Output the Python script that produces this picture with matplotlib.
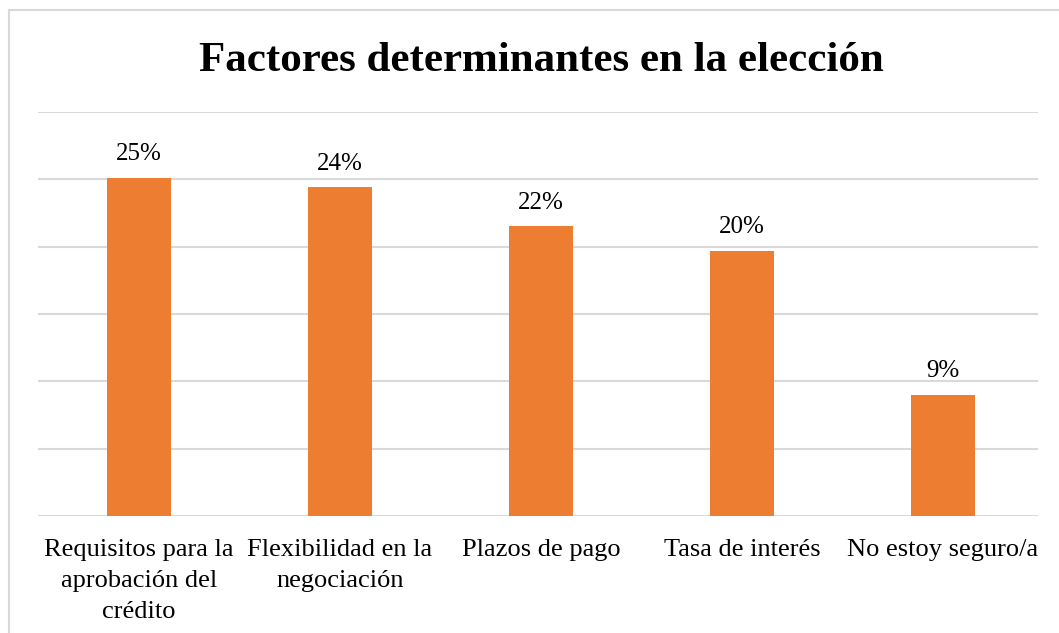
import matplotlib

matplotlib.use("Agg")
import matplotlib.pyplot as plt
from matplotlib.patches import Rectangle

# data (percent)
categories = [
    "Requisitos para la\naprobación del\ncrédito",
    "Flexibilidad en la\nnegociación",
    "Plazos de pago",
    "Tasa de interés",
    "No estoy seguro/a",
]
values = [25.1, 24.4, 21.5, 19.7, 9.0]
value_labels = ["25%", "24%", "22%", "20%", "9%"]
title = "Factores determinantes en la elección"

ORANGE = "#ED7D31"
GRID = "#d9d9d9"

plt.rcParams["font.family"] = ["Liberation Serif", "DejaVu Serif"]

W, H = 1059, 633
fig = plt.figure(figsize=(W / 100, H / 100), dpi=100)
fig.patch.set_facecolor("white")

# chart border (right/bottom edges fall outside the image)
fig.patches.append(Rectangle((9 / W, -0.1), 1.2, 1 - 10 / H + 0.1,
                             transform=fig.transFigure, fill=False,
                             edgecolor=GRID, lw=1.5))

ax = fig.add_axes([38 / W, 1 - 516 / H, 1000 / W, 404 / H])
x = range(len(categories))
bars = ax.bar(x, values, width=0.315, color=ORANGE, zorder=3)
ax.set_xlim(-0.5025, 4.4726)
ax.set_ylim(0, 30)
ax.set_yticks(range(0, 31, 5))
ax.yaxis.grid(True, color=GRID, lw=1.5, zorder=0)
ax.tick_params(axis="y", left=False, labelleft=False)
ax.tick_params(axis="x", bottom=False, pad=13, labelsize=19)
ax.set_xticks(list(x))
ax.set_xticklabels(categories, linespacing=1.52)
for s in ax.spines.values():
    s.set_visible(False)

for b, lab in zip(bars, value_labels):
    ax.annotate(lab, (b.get_x() + b.get_width() / 2, b.get_height()),
                xytext=(0, 9), textcoords="offset points",
                ha="center", va="bottom", fontsize=18)

fig.text(541 / W, 1 - 61 / H, title, ha="center", va="center",
         fontsize=31, fontweight="bold")

fig.savefig("out.png", dpi=100)
